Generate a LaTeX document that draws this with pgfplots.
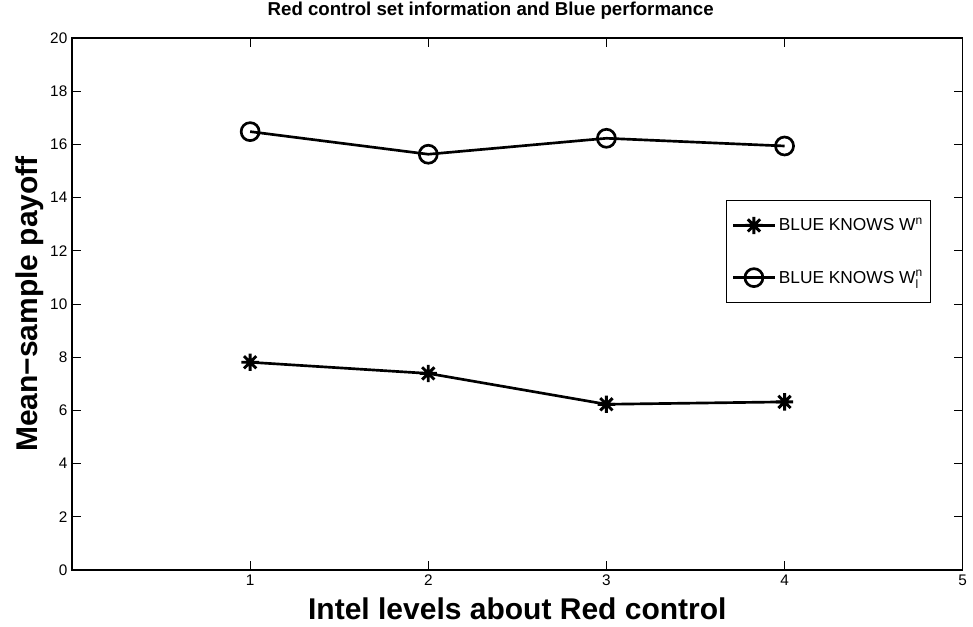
\documentclass[border=0pt]{standalone}
\usepackage{fontspec}
\setmainfont{Liberation Sans}
\usepackage{pgfplots}
\pgfplotsset{compat=1.18}
\pgfdeclareplotmark{mstar}{%
  \pgfpathmoveto{\pgfqpoint{-\pgfplotmarksize}{0pt}}%
  \pgfpathlineto{\pgfqpoint{\pgfplotmarksize}{0pt}}%
  \pgfpathmoveto{\pgfqpoint{0pt}{-\pgfplotmarksize}}%
  \pgfpathlineto{\pgfqpoint{0pt}{\pgfplotmarksize}}%
  \pgfpathmoveto{\pgfqpoint{-0.707\pgfplotmarksize}{-0.707\pgfplotmarksize}}%
  \pgfpathlineto{\pgfqpoint{0.707\pgfplotmarksize}{0.707\pgfplotmarksize}}%
  \pgfpathmoveto{\pgfqpoint{-0.707\pgfplotmarksize}{0.707\pgfplotmarksize}}%
  \pgfpathlineto{\pgfqpoint{0.707\pgfplotmarksize}{-0.707\pgfplotmarksize}}%
  \pgfusepathqstroke}
\begin{document}
\begin{tikzpicture}
\begin{axis}[
  name=ax,
  scale only axis,
  width=668pt, height=399pt,
  xmin=0, xmax=5, ymin=0, ymax=20,
  xtick={1,2,3,4,5},
  ytick={0,2,...,20},
  tick align=inside,
  major tick length=6.5pt,
  tick style={black, line width=0.6pt},
  axis line style={line width=1.2pt},
  /pgf/number format/assume math mode=true,
  tick label style={font=\fontsize{11.5}{13}\selectfont},
  title={\bfseries Red control set information and Blue performance},
  title style={font=\fontsize{14}{16}\selectfont, at={(axis description cs:0.5,1)}, anchor=base, yshift=11.25pt, xshift=-20pt},
  xlabel={\bfseries Intel levels about Red control},
  ylabel={\bfseries Mean\textminus sample payoff},
  label style={font=\fontsize{22.5}{26}\selectfont},
  xlabel style={at={(axis description cs:0.5,-0.0921)}, anchor=base},
  ylabel style={at={(axis description cs:-0.0471,0.5)}, anchor=center},
  legend style={at={(0.734,0.6955)}, anchor=north west, draw=black, line width=1pt,
    font=\fontsize{13}{15}\selectfont, inner xsep=4pt, inner ysep=11pt, row sep=24pt,
    legend cell align=left},
  legend image code/.code={%
    \draw[mark repeat=2,mark phase=2] plot coordinates {(0cm,0cm) (0.55cm,0cm) (1.1cm,0cm)};},
]
\addplot[black, line width=2pt, mark=mstar, mark size=6.5pt, mark options={line width=2.2pt}]
  coordinates {(1,7.81) (2,7.39) (3,6.23) (4,6.32)};
\addlegendentry{BLUE KNOWS W\raisebox{0.7ex}{\fontsize{9}{10}\selectfont n}\hspace{10pt}}
\addplot[black, line width=2pt, mark=o, mark size=6.75pt, mark options={line width=2pt}]
  coordinates {(1,16.48) (2,15.63) (3,16.23) (4,15.94)};
\addlegendentry{BLUE KNOWS W\rlap{\raisebox{0.7ex}{\fontsize{9}{10}\selectfont n}}\raisebox{-0.55ex}{\fontsize{9}{10}\selectfont l}\hspace{12pt}}
\end{axis}
\pgfresetboundingbox
\path[use as bounding box] (ax.south west) ++(-54pt,-42pt) rectangle ++(729.75pt,469.5pt);
\end{tikzpicture}
\end{document}
